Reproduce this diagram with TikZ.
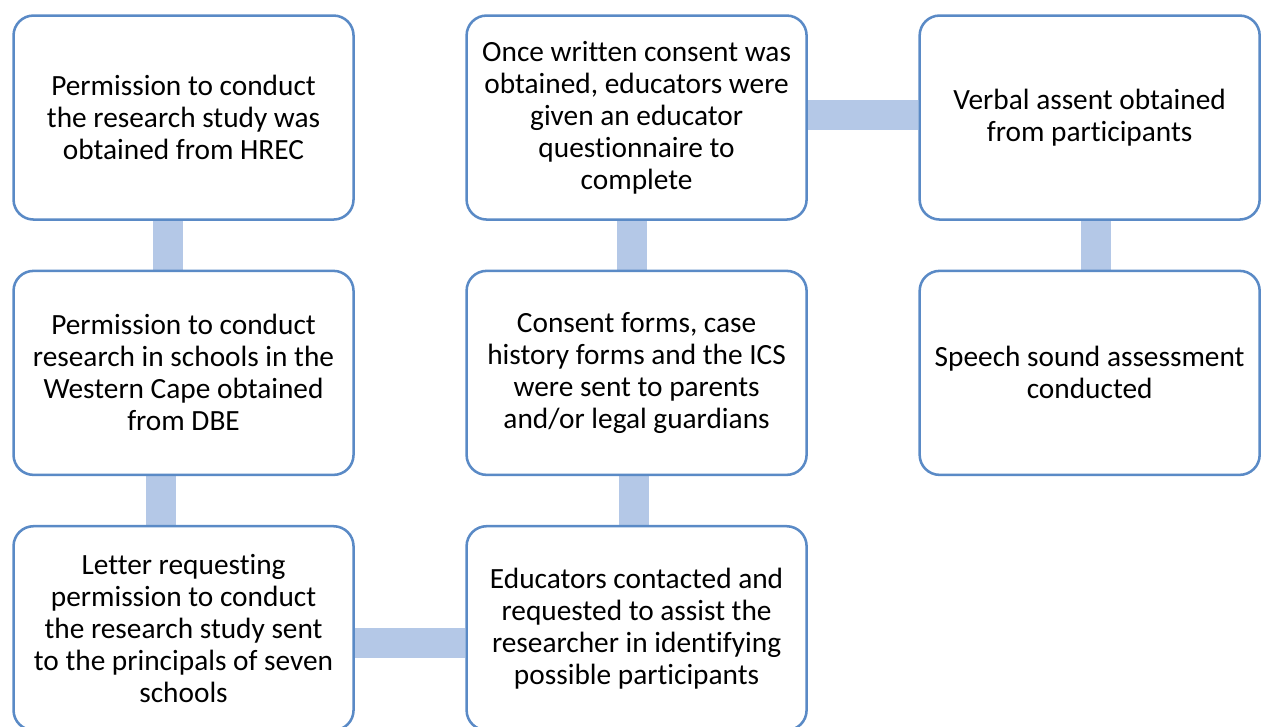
\documentclass[tikz,border=0pt]{standalone}
\usepackage{fontspec}
\setmainfont{Carlito}[Ligatures=NoCommon]
\usetikzlibrary{matrix,backgrounds}
\definecolor{boxline}{HTML}{5A8AC6}
\definecolor{barfill}{HTML}{B4C8E7}
\tikzset{
    ampersand replacement=\&,
    stepbox/.style={draw=boxline, line width=1.9pt, fill=white,
        rounded corners=15pt, minimum width=255pt, minimum height=153pt,
        align=center, inner sep=0pt,
        font=\fontsize{22}{24}\selectfont},
    bar/.style={draw=barfill, line width=22.5pt},
}

\begin{document}
\begin{tikzpicture}[x=0.75pt, y=-0.75pt]
            \useasboundingbox (0,0) rectangle (1261,726);
            \clip (0,0) rectangle (1261,726);
            \matrix[row sep=36.6pt, column sep=82.9pt, inner sep=0pt, anchor=north west] at (12,14) {
                \node[stepbox] (hrec) {Permission to conduct\\the research study was\\obtained from HREC} ; \&
                \node[stepbox] (quest) {Once written consent was\\obtained, educators were\\given an educator\\questionnaire to\\complete} ; \&
                \node[stepbox] (assent) {Verbal assent obtained\\from participants} ; \\
                \node[stepbox] (dbe) {Permission to conduct\\research in schools in the\\Western Cape obtained\\from DBE} ; \&
                \node[stepbox] (forms) {Consent forms, case\\history forms and the ICS\\were sent to parents\\and/or legal guardians} ; \&
                \node[stepbox] (speech) {Speech sound assessment\\conducted} ; \\
                \node[stepbox] (letter) {Letter requesting\\permission to conduct\\the research study sent\\to the principals of seven\\schools} ; \&
                \node[stepbox] (educ) {Educators contacted and\\requested to assist the\\researcher in identifying\\possible participants} ; \&
                \\
            } ;

            % connecting bars behind the boxes
            \begin{scope}[on background layer]
                \draw[bar] ([xshift=-11.6pt]hrec.south) -- ([xshift=-11.6pt]dbe.north);
                \draw[bar] ([xshift=-16.9pt]dbe.south) -- ([xshift=-16.9pt]letter.north);
                \draw[bar] ([yshift=-10.9pt]letter.east) -- ([yshift=-10.9pt]educ.west);
                \draw[bar] ([xshift=-2.3pt]educ.north) -- ([xshift=-2.3pt]forms.south);
                \draw[bar] ([xshift=-3.4pt]forms.north) -- ([xshift=-3.4pt]quest.south);
                \draw[bar] ([yshift=1.9pt]quest.east) -- ([yshift=1.9pt]assent.west);
                \draw[bar] ([xshift=4.5pt]assent.south) -- ([xshift=4.5pt]speech.north);
            \end{scope}
        \end{tikzpicture}
\end{document}
